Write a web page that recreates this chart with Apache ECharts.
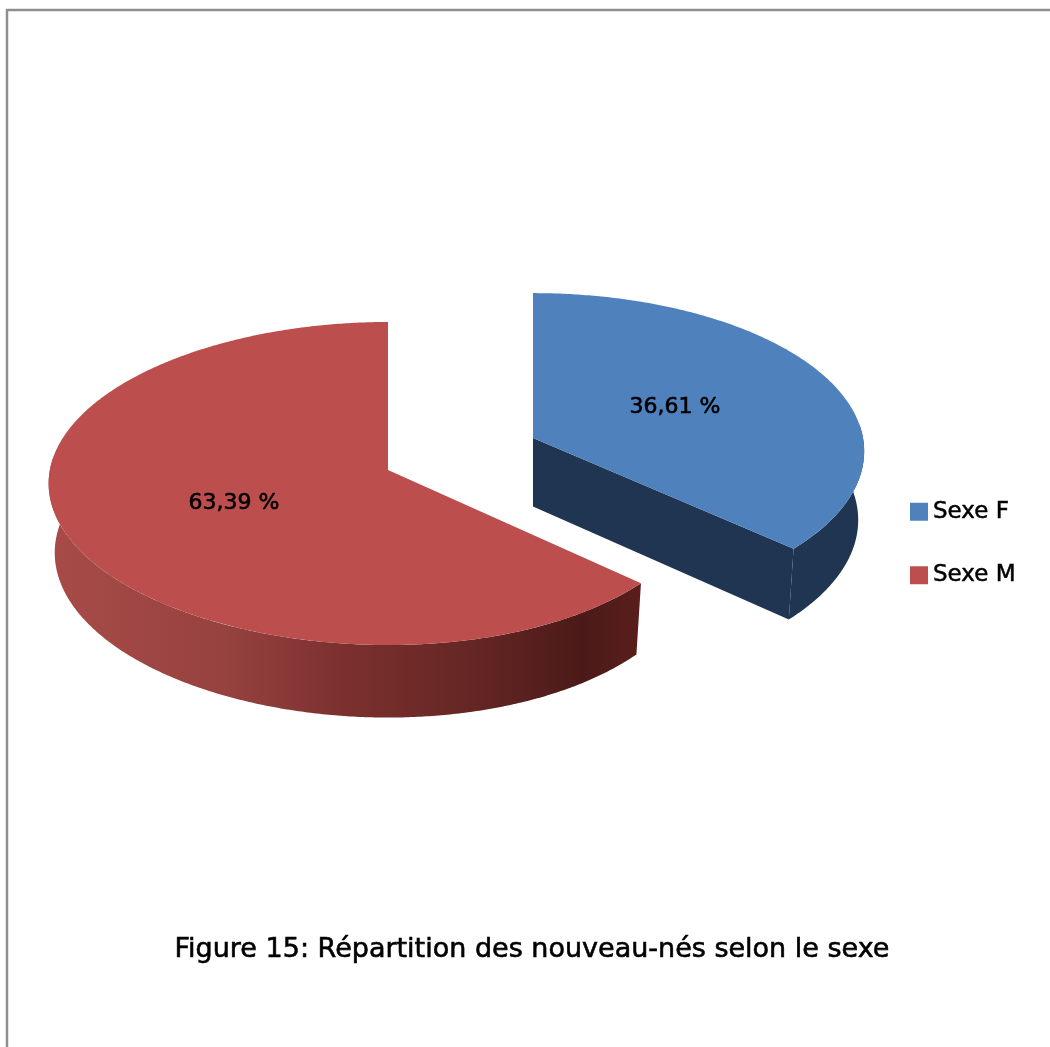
<!DOCTYPE html>
<html>
<head>
<meta charset="utf-8">
<style>html,body{margin:0;padding:0;background:#fff}#c{width:1050px;height:1047px}</style>
<script src="https://cdn.jsdelivr.net/npm/echarts@6/dist/echarts.min.js"></script>
</head>
<body>
<div id="c"></div>
<script>
var categories = ['Sexe F', 'Sexe M'];
var shares = [36.61, 63.39];
var captionText = 'Figure 15: Répartition des nouveau-nés selon le sexe';

var FONT = '"DejaVu Sans", sans-serif';
var total = shares[0] + shares[1];

var geometry = [
  { cx: 533, cy: 438, rx: 330, ry: 157, k: 0.0836, kx: 0, depth: 68.5,
    top: '#4f81bd', label: [675, 407], wallFrom: 85, face: '#1f3552',
    wall: '#1f3552' },
  { cx: 388, cy: 470, rx: 328, ry: 160.4, k: 0.0836, kx: -0.03, depth: 69,
    top: '#bc4f4d', label: [234, 503], wallTo: 275,
    wall: { type: 'linear', x: 0, y: 0, x2: 1, y2: 0, colorStops: [
      { offset: 0, color: '#a84b48' }, { offset: 0.3, color: '#96423f' },
      { offset: 0.5, color: '#7b302e' }, { offset: 0.72, color: '#642624' },
      { offset: 0.9, color: '#4b1a18' }, { offset: 1, color: '#5a1e1c' }] } }
];

function ringPoint(g, deg, lower) {
  var t = deg * Math.PI / 180, u = Math.sin(t), v = -Math.cos(t);
  var dx = 1 - g.k * v - g.kx * u, dy = 1 - g.k * v;
  var px = g.rx * u / dx, py = g.ry * v / dy;
  if (lower) { px *= 0.982; py = py * 1.02 + g.depth; }
  return [g.cx + px, g.cy + py];
}
function arc(g, a, b, lower) {
  var pts = [], n = Math.max(2, Math.ceil(Math.abs(b - a) * 2));
  for (var i = 0; i <= n; i++) pts.push(ringPoint(g, a + (b - a) * i / n, lower));
  return pts;
}
function labelText(v) { return v.toFixed(2).replace('.', ',') + ' %'; }

function makeRender(index) {
  return function (params, api) {
    var g = geometry[index];
    var value = api.value(0);
    var before = 0;
    for (var i = 0; i < index; i++) before += shares[i];
    var a = before / total * 360, b = a + value / total * 360;
    var apex = [g.cx, g.cy], apexLow = [g.cx, g.cy + g.depth];
    var children = [];
    if (index === 0) {
      var wallA = arc(g, g.wallFrom, b, false).concat(arc(g, b, g.wallFrom, true));
      children.push({ type: 'polygon', shape: { points: wallA }, style: { fill: g.wall } });
      children.push({ type: 'polygon',
        shape: { points: [apex, ringPoint(g, b, false), ringPoint(g, b, true), apexLow] },
        style: { fill: g.face } });
    } else {
      var wallB = arc(g, a, g.wallTo, false).concat(arc(g, g.wallTo, a, true));
      children.push({ type: 'polygon', shape: { points: wallB }, style: { fill: g.wall } });
    }
    children.push({ type: 'polygon', shape: { points: [apex].concat(arc(g, a, b, false)) },
      style: { fill: g.top } });
    children.push({ type: 'text', x: g.label[0], y: g.label[1],
      style: { text: labelText(value), fill: '#000', font: '22px ' + FONT,
        textAlign: 'center', textVerticalAlign: 'middle',
        stroke: '#000', lineWidth: 0.6 } });
    return { type: 'group', children: children };
  };
}

var chart = echarts.init(document.getElementById('c'), null, { renderer: 'canvas' });
chart.setOption({
  animation: false,
  backgroundColor: '#fff',
  title: {
    text: captionText, left: 527, top: 945, textAlign: 'center', textVerticalAlign: 'middle',
    textStyle: { fontFamily: FONT, fontSize: 27, fontWeight: 'normal', color: '#000',
      textBorderColor: '#000', textBorderWidth: 0.6 }
  },
  legend: {
    orient: 'vertical', left: 905, top: 495, padding: 5, itemWidth: 18, itemHeight: 18, itemGap: 40,
    icon: 'rect', data: categories,
    textStyle: { fontFamily: FONT, fontSize: 23, color: '#000', padding: [0, 0, 7, 0],
      textBorderColor: '#000', textBorderWidth: 0.5 }
  },
  graphic: [
    { type: 'polyline', silent: true,
      shape: { points: [[7, 1047], [7, 10], [1050, 10]] },
      style: { stroke: '#8f8f8f', lineWidth: 2.5, fill: null } }
  ],
  series: categories.map(function (name, i) {
    return {
      type: 'custom', name: name, coordinateSystem: 'none',
      itemStyle: { color: geometry[i].top },
      renderItem: makeRender(i),
      data: [[shares[i]]]
    };
  })
});
</script>
</body>
</html>
